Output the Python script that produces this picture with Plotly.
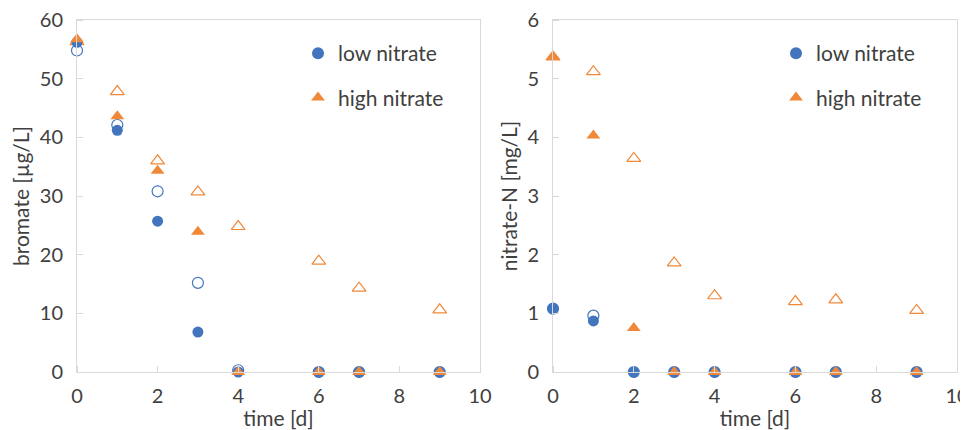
import plotly.graph_objects as go

time = [0, 1, 2, 3, 4, 6, 7, 9]

# bromate [µg/L]
bro_low_a = [56.2, 41.2, 25.7, 6.8, 0.0, 0.0, 0.0, 0.0]
bro_low_b = [54.8, 42.1, 30.8, 15.2, 0.3, 0.0, 0.0, 0.0]
bro_high_a = [56.7, 43.6, 34.3, 23.9, 0.0, 0.0, 0.0, 0.0]
bro_high_b = [56.3, 47.8, 36.0, 30.7, 24.8, 18.9, 14.3, 10.6]

# nitrate-N [mg/L]
nit_low_a = [1.08, 0.87, 0.0, 0.0, 0.0, 0.0, 0.0, 0.0]
nit_low_b = [1.08, 0.96, 0.0, 0.0, 0.0, 0.0, 0.0, 0.0]
nit_high_a = [5.37, 4.03, 0.75, 0.0, 0.0, 0.0, 0.0, 0.0]
nit_high_b = [5.37, 5.12, 3.64, 1.86, 1.30, 1.20, 1.23, 1.05]

BLUE = "#4375BE"
ORANGE = "#F0883A"
FONT = "Lato"
TXT = "#404040"
LINE = "#D9D9D9"

# page is drawn with an 8px body margin: work in page pixels, convert
W, H, OFF = 960, 422, 8
def px(x):
    return (x - OFF) / W
def py(y):
    return 1 - (y - OFF) / H

fig = go.Figure()

def add(x, y, xa, ya, sym, color, name, legend, show, filled, group):
    if filled:
        m = dict(symbol=sym, size=11 if sym == "circle" else 12, color=color,
                 line=dict(width=0))
    else:
        m = dict(symbol=sym + "-open", size=11 if sym == "circle" else 12,
                 color=color, line=dict(width=1.2, color=color))
    fig.add_trace(go.Scatter(x=x, y=y, mode="markers", marker=m, name=name,
                             xaxis=xa, yaxis=ya, showlegend=show, legend=legend,
                             legendgroup=group, cliponaxis=False))

# left panel
add(time, bro_high_b, "x", "y", "triangle-up", ORANGE, "high nitrate", "legend", False, False, "h1")
add(time, bro_low_b, "x", "y", "circle", BLUE, "low nitrate", "legend", False, False, "l1")
add(time, bro_low_a, "x", "y", "circle", BLUE, "low nitrate", "legend", True, True, "l1")
add(time, bro_high_a, "x", "y", "triangle-up", ORANGE, "high nitrate", "legend", True, True, "h1")
# right panel
add(time, nit_high_b, "x2", "y2", "triangle-up", ORANGE, "high nitrate", "legend2", False, False, "h2")
add(time, nit_low_b, "x2", "y2", "circle", BLUE, "low nitrate", "legend2", False, False, "l2")
add(time, nit_low_a, "x2", "y2", "circle", BLUE, "low nitrate", "legend2", True, True, "l2")
add(time, nit_high_a, "x2", "y2", "triangle-up", ORANGE, "high nitrate", "legend2", True, True, "h2")

def axis(dtick, ticklen):
    return dict(showgrid=False, zeroline=False, showline=True, mirror=True,
                linecolor=LINE, linewidth=1, ticks="outside",
                tickcolor="rgba(0,0,0,0)", ticklen=ticklen, tickwidth=1,
                automargin=False, dtick=dtick, ticklabeloverflow="allow",
                minor=dict(ticks="inside", dtick=dtick, ticklen=6,
                           tickcolor=LINE, tickwidth=1, showgrid=False),
                tickfont=dict(family=FONT, size=20, color=TXT))

title_font = dict(family=FONT, size=21, color=TXT)

leg_common = dict(xanchor="left", yanchor="top", bgcolor="rgba(0,0,0,0)",
                  font=dict(family=FONT, size=21, color=TXT),
                  tracegroupgap=14, itemsizing="constant", traceorder="grouped")

fig.update_layout(
    width=W, height=H,
    margin=dict(l=0, r=0, t=0, b=0),
    paper_bgcolor="white", plot_bgcolor="white",
    font=dict(family=FONT, color=TXT),
    xaxis=dict(domain=[px(77), px(480)], range=[0, 10],
               title=dict(text="time [d]", font=title_font, standoff=5),
               **axis(2, 6)),
    yaxis=dict(domain=[py(372), py(20)], range=[0, 60],
               title=dict(text="bromate [µg/L]", font=title_font, standoff=4),
               **axis(10, 9)),
    xaxis2=dict(domain=[px(553), px(957)], range=[0, 10], anchor="y2",
                title=dict(text="time [d]", font=title_font, standoff=5),
                **axis(2, 6)),
    yaxis2=dict(domain=[py(372), py(20)], range=[0, 6], anchor="x2",
                title=dict(text="nitrate-N [mg/L]", font=title_font, standoff=4),
                **axis(1, 9)),
    legend=dict(x=px(298), y=py(33), **leg_common),
    legend2=dict(x=px(776), y=py(33), **leg_common),
)

fig.write_html("out.html")
